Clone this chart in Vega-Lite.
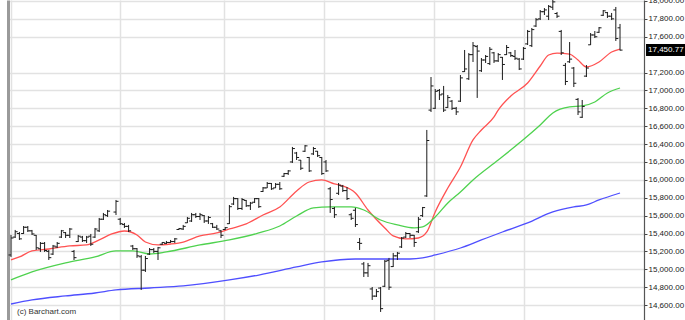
{
  "$schema": "https://vega.github.io/schema/vega-lite/v6.json",
  "width": 636,
  "height": 320,
  "autosize": {"type": "none"},
  "padding": {"left": 8, "top": 0, "right": 41, "bottom": 0},
  "background": "white",
  "config": {"view": {"stroke": null}, "font": "Liberation Sans"},
  "title": {"text": "(c) Barchart.com", "orient": "bottom", "anchor": "start", "offset": -12, "dx": 9,
            "fontSize": 8, "font": "Liberation Sans", "fontWeight": "normal", "color": "#333"},
  "datasets": {
    "bars": [
      {"t":0,"o":15160,"h":15384,"l":15138,"c":15350},
      {"t":1,"o":15360,"h":15440,"l":15350,"c":15420},
      {"t":2,"o":15400,"h":15417,"l":15328,"c":15340},
      {"t":3,"o":15400,"h":15484,"l":15395,"c":15470},
      {"t":4,"o":15470,"h":15484,"l":15417,"c":15430},
      {"t":5,"o":15430,"h":15440,"l":15384,"c":15395},
      {"t":6,"o":15380,"h":15384,"l":15216,"c":15240},
      {"t":7,"o":15230,"h":15305,"l":15194,"c":15290},
      {"t":8,"o":15290,"h":15305,"l":15194,"c":15210},
      {"t":9,"o":15200,"h":15216,"l":15104,"c":15130},
      {"t":10,"o":15170,"h":15272,"l":15160,"c":15260},
      {"t":11,"o":15250,"h":15305,"l":15238,"c":15290},
      {"t":12,"o":15360,"h":15440,"l":15350,"c":15430},
      {"t":13,"o":15410,"h":15417,"l":15350,"c":15380},
      {"t":14,"o":15380,"h":15462,"l":15350,"c":15450},
      {"t":15,"o":15200,"h":15216,"l":15104,"c":15130},
      {"t":16,"o":15310,"h":15384,"l":15305,"c":15370},
      {"t":17,"o":15360,"h":15373,"l":15305,"c":15320},
      {"t":18,"o":15320,"h":15373,"l":15294,"c":15360},
      {"t":19,"o":15370,"h":15395,"l":15261,"c":15280},
      {"t":20,"o":15360,"h":15462,"l":15350,"c":15450},
      {"t":21,"o":15430,"h":15574,"l":15417,"c":15560},
      {"t":22,"o":15560,"h":15630,"l":15551,"c":15610},
      {"t":23,"o":15600,"h":15663,"l":15585,"c":15650},
      {"t":25,"o":15640,"h":15775,"l":15607,"c":15760},
      {"t":26,"o":15560,"h":15574,"l":15496,"c":15510},
      {"t":27,"o":15500,"h":15518,"l":15462,"c":15480},
      {"t":28,"o":15480,"h":15496,"l":15417,"c":15430},
      {"t":29,"o":15260,"h":15272,"l":15216,"c":15230},
      {"t":30,"o":15230,"h":15238,"l":15127,"c":15150},
      {"t":31,"o":15140,"h":15160,"l":14769,"c":14990},
      {"t":32,"o":14990,"h":15149,"l":14970,"c":15120},
      {"t":33,"o":15170,"h":15238,"l":15160,"c":15220},
      {"t":34,"o":15220,"h":15238,"l":15183,"c":15200},
      {"t":35,"o":15200,"h":15250,"l":15104,"c":15240},
      {"t":36,"o":15280,"h":15305,"l":15272,"c":15300},
      {"t":37,"o":15290,"h":15317,"l":15283,"c":15300},
      {"t":38,"o":15300,"h":15328,"l":15294,"c":15310},
      {"t":39,"o":15310,"h":15350,"l":15294,"c":15340},
      {"t":40,"o":15445,"h":15462,"l":15440,"c":15455},
      {"t":41,"o":15450,"h":15496,"l":15440,"c":15480},
      {"t":42,"o":15520,"h":15585,"l":15518,"c":15570},
      {"t":43,"o":15540,"h":15630,"l":15529,"c":15610},
      {"t":44,"o":15610,"h":15630,"l":15574,"c":15590},
      {"t":45,"o":15590,"h":15630,"l":15551,"c":15610},
      {"t":46,"o":15600,"h":15607,"l":15518,"c":15540},
      {"t":47,"o":15540,"h":15596,"l":15507,"c":15580},
      {"t":48,"o":15510,"h":15518,"l":15462,"c":15470},
      {"t":49,"o":15470,"h":15496,"l":15440,"c":15450},
      {"t":50,"o":15430,"h":15440,"l":15350,"c":15380},
      {"t":51,"o":15445,"h":15473,"l":15440,"c":15465},
      {"t":52,"o":15510,"h":15719,"l":15507,"c":15700},
      {"t":53,"o":15730,"h":15809,"l":15719,"c":15790},
      {"t":54,"o":15790,"h":15797,"l":15663,"c":15680},
      {"t":55,"o":15680,"h":15797,"l":15663,"c":15780},
      {"t":56,"o":15770,"h":15775,"l":15697,"c":15710},
      {"t":57,"o":15710,"h":15753,"l":15663,"c":15740},
      {"t":58,"o":15750,"h":15797,"l":15741,"c":15790},
      {"t":59,"o":15790,"h":15797,"l":15686,"c":15700},
      {"t":60,"o":15870,"h":15920,"l":15864,"c":15910},
      {"t":61,"o":15910,"h":15976,"l":15909,"c":15960},
      {"t":62,"o":15960,"h":15965,"l":15887,"c":15900},
      {"t":63,"o":15910,"h":15965,"l":15909,"c":15950},
      {"t":64,"o":15950,"h":15976,"l":15887,"c":15900},
      {"t":65,"o":16040,"h":16077,"l":16032,"c":16070},
      {"t":66,"o":16070,"h":16110,"l":16055,"c":16100},
      {"t":67,"o":16200,"h":16368,"l":16189,"c":16350},
      {"t":68,"o":16300,"h":16312,"l":16222,"c":16250},
      {"t":69,"o":16220,"h":16222,"l":16110,"c":16130},
      {"t":70,"o":16320,"h":16390,"l":16312,"c":16380},
      {"t":71,"o":16250,"h":16256,"l":16088,"c":16100},
      {"t":72,"o":16290,"h":16368,"l":16278,"c":16350},
      {"t":73,"o":16320,"h":16323,"l":16256,"c":16270},
      {"t":74,"o":16250,"h":16256,"l":16055,"c":16070},
      {"t":75,"o":16200,"h":16222,"l":16088,"c":16100},
      {"t":76,"o":15900,"h":15920,"l":15630,"c":15780},
      {"t":77,"o":15680,"h":15697,"l":15574,"c":15610},
      {"t":78,"o":15850,"h":15965,"l":15831,"c":15940},
      {"t":79,"o":15930,"h":15943,"l":15864,"c":15880},
      {"t":80,"o":15880,"h":15920,"l":15775,"c":15790},
      {"t":81,"o":15610,"h":15630,"l":15551,"c":15570},
      {"t":82,"o":15660,"h":15686,"l":15473,"c":15500},
      {"t":83,"o":15300,"h":15350,"l":15216,"c":15290},
      {"t":84,"o":15060,"h":15082,"l":14914,"c":14960},
      {"t":85,"o":14960,"h":15071,"l":14914,"c":15040},
      {"t":86,"o":14780,"h":14802,"l":14657,"c":14700},
      {"t":87,"o":14700,"h":14780,"l":14690,"c":14750},
      {"t":88,"o":14790,"h":14802,"l":14523,"c":14560},
      {"t":89,"o":14810,"h":15104,"l":14802,"c":15090},
      {"t":90,"o":15100,"h":15127,"l":14769,"c":14800},
      {"t":91,"o":15030,"h":15183,"l":15026,"c":15150},
      {"t":92,"o":15150,"h":15194,"l":15104,"c":15180},
      {"t":93,"o":15250,"h":15361,"l":15238,"c":15350},
      {"t":94,"o":15360,"h":15417,"l":15350,"c":15400},
      {"t":95,"o":15400,"h":15406,"l":15350,"c":15380},
      {"t":96,"o":15380,"h":15384,"l":15250,"c":15300},
      {"t":97,"o":15420,"h":15585,"l":15406,"c":15560},
      {"t":98,"o":15600,"h":15697,"l":15585,"c":15690},
      {"t":99,"o":15820,"h":16558,"l":15809,"c":16440},
      {"t":100,"o":16780,"h":17150,"l":16759,"c":17050},
      {"t":101,"o":16800,"h":17016,"l":16793,"c":16990},
      {"t":102,"o":17000,"h":17016,"l":16893,"c":16950},
      {"t":103,"o":16960,"h":17050,"l":16759,"c":16780},
      {"t":104,"o":16810,"h":16949,"l":16804,"c":16920},
      {"t":105,"o":16880,"h":16893,"l":16781,"c":16800},
      {"t":106,"o":16800,"h":16815,"l":16725,"c":16760},
      {"t":107,"o":16880,"h":17172,"l":16871,"c":17140},
      {"t":108,"o":17210,"h":17452,"l":17206,"c":17240},
      {"t":109,"o":17130,"h":17418,"l":17117,"c":17400},
      {"t":110,"o":17400,"h":17541,"l":17318,"c":17500},
      {"t":111,"o":17490,"h":17508,"l":16916,"c":17440},
      {"t":112,"o":17220,"h":17362,"l":17206,"c":17340},
      {"t":113,"o":17340,"h":17396,"l":17307,"c":17380},
      {"t":114,"o":17300,"h":17485,"l":17284,"c":17460},
      {"t":115,"o":17420,"h":17430,"l":17307,"c":17330},
      {"t":116,"o":17330,"h":17418,"l":17318,"c":17400},
      {"t":117,"o":17370,"h":17374,"l":17117,"c":17290},
      {"t":118,"o":17400,"h":17508,"l":17396,"c":17480},
      {"t":119,"o":17420,"h":17430,"l":17374,"c":17390},
      {"t":120,"o":17380,"h":17452,"l":17340,"c":17360},
      {"t":121,"o":17350,"h":17362,"l":17228,"c":17240},
      {"t":122,"o":17350,"h":17485,"l":17340,"c":17470},
      {"t":123,"o":17520,"h":17676,"l":17508,"c":17660},
      {"t":124,"o":17500,"h":17698,"l":17485,"c":17680},
      {"t":125,"o":17720,"h":17810,"l":17709,"c":17790},
      {"t":126,"o":17800,"h":17899,"l":17787,"c":17880},
      {"t":127,"o":17880,"h":17921,"l":17843,"c":17900},
      {"t":128,"o":17830,"h":17955,"l":17787,"c":17940},
      {"t":129,"o":17930,"h":18011,"l":17899,"c":17990},
      {"t":130,"o":17860,"h":17877,"l":17810,"c":17830},
      {"t":131,"o":17660,"h":17676,"l":17396,"c":17420},
      {"t":132,"o":17280,"h":17307,"l":17060,"c":17100},
      {"t":133,"o":17320,"h":17541,"l":17307,"c":17350},
      {"t":134,"o":17250,"h":17262,"l":17038,"c":17080},
      {"t":135,"o":16900,"h":16915,"l":16725,"c":16760},
      {"t":136,"o":16700,"h":16893,"l":16692,"c":16820},
      {"t":137,"o":17160,"h":17284,"l":17150,"c":17250},
      {"t":138,"o":17510,"h":17642,"l":17508,"c":17620},
      {"t":139,"o":17620,"h":17664,"l":17586,"c":17600},
      {"t":140,"o":17650,"h":17709,"l":17642,"c":17700},
      {"t":141,"o":17840,"h":17899,"l":17832,"c":17890},
      {"t":142,"o":17870,"h":17877,"l":17810,"c":17830},
      {"t":143,"o":17830,"h":17866,"l":17787,"c":17800},
      {"t":144,"o":17900,"h":17933,"l":17553,"c":17580},
      {"t":145,"o":17700,"h":17743,"l":17445,"c":17450.77}
    ],
    "ma": [
      {"s":"red","t":0,"v":15104},{"s":"red","t":2,"v":15138},{"s":"red","t":5,"v":15205},{"s":"red","t":9,"v":15227},
      {"s":"red","t":14,"v":15261},{"s":"red","t":18,"v":15272},{"s":"red","t":21,"v":15328},{"s":"red","t":24,"v":15395},
      {"s":"red","t":27,"v":15428},{"s":"red","t":30,"v":15384},{"s":"red","t":32,"v":15305},{"s":"red","t":35,"v":15272},
      {"s":"red","t":38,"v":15283},{"s":"red","t":41,"v":15305},{"s":"red","t":45,"v":15373},{"s":"red","t":49,"v":15406},
      {"s":"red","t":52,"v":15451},{"s":"red","t":56,"v":15507},{"s":"red","t":60,"v":15607},{"s":"red","t":64,"v":15697},
      {"s":"red","t":68,"v":15876},{"s":"red","t":71,"v":15976},{"s":"red","t":74,"v":15999},{"s":"red","t":77,"v":15954},
      {"s":"red","t":79,"v":15931},{"s":"red","t":82,"v":15853},{"s":"red","t":85,"v":15663},{"s":"red","t":89,"v":15462},
      {"s":"red","t":91,"v":15373},{"s":"red","t":94,"v":15339},{"s":"red","t":97,"v":15350},{"s":"red","t":99,"v":15417},
      {"s":"red","t":101,"v":15641},{"s":"red","t":104,"v":15909},{"s":"red","t":107,"v":16144},{"s":"red","t":110,"v":16446},
      {"s":"red","t":112,"v":16558},{"s":"red","t":115,"v":16703},{"s":"red","t":116,"v":16780},{"s":"red","t":119,"v":16938},
      {"s":"red","t":123,"v":17083},{"s":"red","t":126,"v":17273},{"s":"red","t":128,"v":17396},{"s":"red","t":130,"v":17418},
      {"s":"red","t":133,"v":17407},{"s":"red","t":135,"v":17340},{"s":"red","t":137,"v":17262},{"s":"red","t":140,"v":17318},
      {"s":"red","t":143,"v":17430},{"s":"red","t":145,"v":17463},
      {"s":"green","t":0,"v":14881},{"s":"green","t":5,"v":14970},{"s":"green","t":13,"v":15071},{"s":"green","t":20,"v":15138},
      {"s":"green","t":25,"v":15205},{"s":"green","t":29,"v":15205},{"s":"green","t":33,"v":15171},{"s":"green","t":37,"v":15194},
      {"s":"green","t":45,"v":15272},{"s":"green","t":52,"v":15328},{"s":"green","t":59,"v":15406},{"s":"green","t":64,"v":15484},
      {"s":"green","t":68,"v":15596},{"s":"green","t":72,"v":15686},{"s":"green","t":76,"v":15697},{"s":"green","t":81,"v":15697},
      {"s":"green","t":84,"v":15663},{"s":"green","t":88,"v":15551},{"s":"green","t":92,"v":15496},{"s":"green","t":96,"v":15462},
      {"s":"green","t":98,"v":15473},{"s":"green","t":101,"v":15585},{"s":"green","t":104,"v":15741},{"s":"green","t":107,"v":15864},
      {"s":"green","t":110,"v":15999},{"s":"green","t":116,"v":16222},{"s":"green","t":121,"v":16412},{"s":"green","t":126,"v":16614},
      {"s":"green","t":129,"v":16748},{"s":"green","t":133,"v":16815},{"s":"green","t":136,"v":16826},{"s":"green","t":139,"v":16871},
      {"s":"green","t":142,"v":16971},{"s":"green","t":145,"v":17027},
      {"s":"blue","t":0,"v":14612},{"s":"blue","t":5,"v":14657},{"s":"blue","t":13,"v":14702},{"s":"blue","t":20,"v":14735},
      {"s":"blue","t":25,"v":14769},{"s":"blue","t":33,"v":14791},{"s":"blue","t":41,"v":14814},{"s":"blue","t":52,"v":14881},
      {"s":"blue","t":59,"v":14936},{"s":"blue","t":68,"v":15026},{"s":"blue","t":74,"v":15082},{"s":"blue","t":82,"v":15115},
      {"s":"blue","t":89,"v":15115},{"s":"blue","t":95,"v":15115},{"s":"blue","t":98,"v":15127},{"s":"blue","t":101,"v":15160},
      {"s":"blue","t":107,"v":15238},{"s":"blue","t":112,"v":15328},{"s":"blue","t":117,"v":15417},{"s":"blue","t":123,"v":15518},
      {"s":"blue","t":129,"v":15641},{"s":"blue","t":134,"v":15697},{"s":"blue","t":137,"v":15719},{"s":"blue","t":140,"v":15775},
      {"s":"blue","t":145,"v":15853}
    ]
  },
  "encoding": {
    "x": {
      "field": "t", "type": "quantitative",
      "scale": {"domain": [-0.714, 150.71], "nice": false, "zero": false},
      "axis": {"orient": "bottom", "labels": false, "ticks": false, "domain": false, "grid": true,
               "values": [-0.1, 26, 50.7, 74.5, 100.7, 122.2], "gridColor": "#e2e2e2", "gridWidth": 1.5, "title": null}
    }
  },
  "resolve": {"axis": {"y": "independent"}},
  "layer": [
    {
      "data": {"name": "ma"},
      "mark": {"type": "line", "strokeWidth": 1.3, "clip": true, "interpolate": "monotone"},
      "encoding": {
        "y": {
          "field": "v", "type": "quantitative",
          "scale": {"domain": [14433, 18011], "nice": false, "zero": false},
          "axis": {"orient": "right", "title": null, "grid": true, "gridColor": "#e2e2e2", "gridWidth": 1.5,
                   "values": [14600, 14800, 15000, 15200, 15400, 15600, 15800, 16000, 16200, 16400, 16600, 16800, 17000, 17200, 17600, 17800, 18000],
                   "format": ",.2f", "labelFont": "Liberation Sans", "labelFontSize": 8, "labelColor": "#222",
                   "tickColor": "#444", "tickSize": 3, "labelPadding": 1, "domainColor": "#555", "domainWidth": 1.2,
                   "labelOverlap": false, "labelFlush": false}
        },
        "color": {"field": "s", "type": "nominal",
                  "scale": {"domain": ["red", "green", "blue"], "range": ["#ff5252", "#4fd24f", "#4f4fff"]},
                  "legend": null}
      }
    },
    {
      "data": {"name": "bars"},
      "mark": {"type": "rule", "color": "#1a1a1a", "strokeWidth": 1, "clip": true},
      "encoding": {
        "y": {"field": "l", "type": "quantitative",
              "scale": {"domain": [14433, 18011], "nice": false, "zero": false},
              "axis": {"orient": "left", "title": null, "labels": false, "ticks": false, "grid": false,
                       "domainColor": "#9a9a9a", "domainWidth": 3}},
        "y2": {"field": "h"}
      }
    },
    {
      "data": {"name": "bars"},
      "mark": {"type": "rule", "color": "#1a1a1a", "strokeWidth": 1, "x2Offset": -2.5, "clip": true},
      "encoding": {
        "x2": {"field": "t"},
        "y": {"field": "o", "type": "quantitative",
              "scale": {"domain": [14433, 18011], "nice": false, "zero": false}, "axis": null}
      }
    },
    {
      "data": {"name": "bars"},
      "mark": {"type": "rule", "color": "#1a1a1a", "strokeWidth": 1, "x2Offset": 2.5, "clip": true},
      "encoding": {
        "x2": {"field": "t"},
        "y": {"field": "c", "type": "quantitative",
              "scale": {"domain": [14433, 18011], "nice": false, "zero": false}, "axis": null}
      }
    },
    {
      "data": {"name": "bars"},
      "transform": [{"filter": "datum.t == 145"}],
      "mark": {"type": "rule", "color": "#000", "strokeWidth": 12, "xOffset": 26, "x2Offset": 65, "clip": false},
      "encoding": {
        "x2": {"field": "t"},
        "y": {"field": "c", "type": "quantitative",
              "scale": {"domain": [14433, 18011], "nice": false, "zero": false}, "axis": null}
      }
    },
    {
      "data": {"name": "bars"},
      "transform": [{"filter": "datum.t == 145"}],
      "mark": {"type": "text", "color": "#fff", "fontSize": 8, "font": "Liberation Sans", "align": "left", "baseline": "middle", "dx": 28, "clip": false},
      "encoding": {
        "y": {"field": "c", "type": "quantitative",
              "scale": {"domain": [14433, 18011], "nice": false, "zero": false}, "axis": null},
        "text": {"field": "c", "type": "quantitative", "format": ",.2f"}
      }
    }
  ]
}
